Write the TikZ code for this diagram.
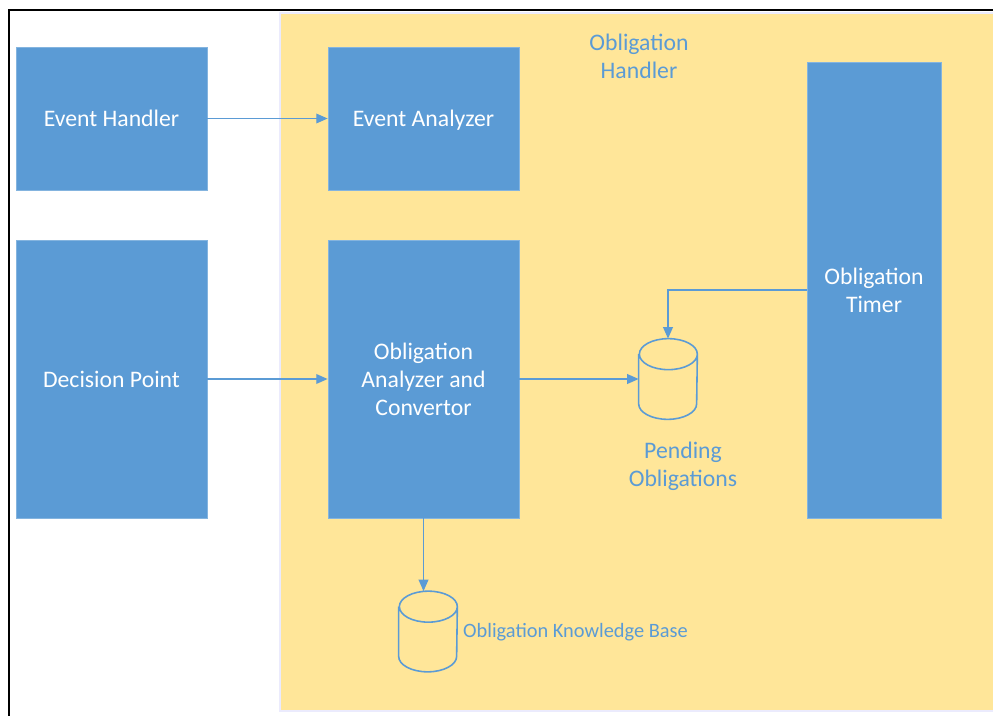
\documentclass[tikz,border=0pt]{standalone}
\usepackage{fontspec}
\setmainfont{Carlito}
\usetikzlibrary{arrows.meta}
\definecolor{boxblue}{HTML}{5B9BD5}
\definecolor{panelyellow}{HTML}{FFE699}
\newcommand{\storeoutline}[1]{%
    \draw[storeline] ([yshift=-0.31cm]#1.north west) -- ([yshift=0.31cm]#1.south west)
        arc[start angle=180, end angle=360, x radius=0.58cm, y radius=0.31cm]
        -- ([yshift=-0.31cm]#1.north east)
        arc[start angle=0, end angle=360, x radius=0.58cm, y radius=0.31cm];}
\tikzset{
            block/.style={fill=boxblue, draw=boxblue!75!white, text=white, align=center,
                          font=\fontsize{13.5}{16}\selectfont, inner sep=0pt},
            store/.style={minimum width=1.16cm, minimum height=1.6cm, inner sep=0pt},
            storeline/.style={draw=boxblue, line width=0.9pt},
            caption/.style={text=boxblue, align=center, font=\fontsize{13.5}{16}\selectfont},
            flow/.style={draw=boxblue, line width=0.8pt, -{Triangle[length=6.5pt,width=5.5pt]}}
        }

\begin{document}
\begin{tikzpicture}[
                    x=0.02cm, y=-0.02cm
                    ]
                \useasboundingbox (0,0) rectangle (993,716);
                \clip (0,0) rectangle (993,716);
                \fill[white] (0,0) rectangle (993,716);
                \draw[line width=1.6pt] (9,10) rectangle (1020,740);
                \filldraw[fill=panelyellow, draw=black!12!blue!8!white, line width=0.6pt] (280,13) rectangle (1020,711);

                \node[block, minimum width=3.82cm, minimum height=2.86cm] (handler) at (111.5,118.5) {Event Handler};
                \node[block, minimum width=3.82cm, minimum height=2.86cm, text depth=0pt] (analyzer) at (423.5,118.5) {Event Analyzer};
                \node[block, minimum width=3.82cm, minimum height=5.56cm] (decision) at (111.5,379) {Decision Point};
                \node[block, minimum width=3.82cm, minimum height=5.56cm] (convertor) at (423.5,379) {Obligation\\Analyzer and\\Convertor};
                \node[block, minimum width=2.68cm, minimum height=9.12cm] (timer) at (874,290) {Obligation\\Timer};
                \node[store] (pending) at (668,379) {};
                \node[store] (knowledge) at (428,631.5) {};
                \storeoutline{pending}
                \storeoutline{knowledge}

                \node[caption] (handlerlabel) at (639,56) {Obligation\\Handler};
                \node[caption] (pendinglabel) at (683,466) {Pending\\Obligations};
                \node[caption, anchor=west, font=\fontsize{11.6}{14}\selectfont] (knowledgelabel) at (457,632) {Obligation Knowledge Base};

                \draw[flow] (handler) -- (analyzer);
                \draw[flow] (decision) -- (convertor);
                \draw[flow] (convertor) -- (pending);
                \draw[flow] (timer) -| (pending);
                \draw[flow] (convertor.south) -- (convertor.south |- knowledge.north);
            \end{tikzpicture}
\end{document}
